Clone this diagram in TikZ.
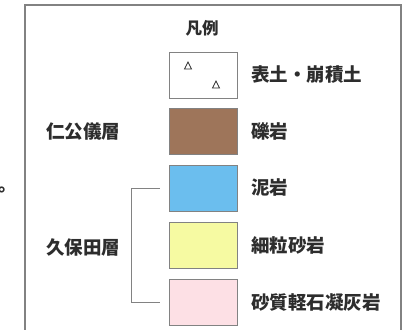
\documentclass[tikz,border=0pt]{standalone}
\usepackage{fontspec}
\newfontfamily\cjk{Noto Sans CJK JP}
\usepackage{xcolor}
\usetikzlibrary{positioning}

\definecolor{framegray}{RGB}{130,130,130}
\definecolor{textgray}{RGB}{45,45,45}
\definecolor{gravelbrown}{RGB}{158,117,90}
\definecolor{mudblue}{RGB}{107,190,238}
\definecolor{sandyellow}{RGB}{246,250,162}
\definecolor{tuffpink}{RGB}{253,224,229}

\begin{document}
\begin{tikzpicture}[
  x=1pt, y=-1pt,
  swatch/.style={rectangle, draw=framegray, line width=0.9pt, minimum width=68pt, minimum height=46pt, inner sep=0pt},
  lbl/.style={font=\cjk\bfseries\fontsize{18.5}{19}\selectfont, text=textgray, anchor=west, inner sep=0pt},
  grp/.style={font=\cjk\bfseries\fontsize{18.5}{19}\selectfont, text=textgray, inner sep=0pt},
  tri/.style={draw=textgray, line width=0.8pt},
  bracket/.style={draw=framegray, line width=0.9pt},
]
  \useasboundingbox (0,0) rectangle (403,329);
  \fill[white] (0,0) rectangle (403,329);

  % frame of the legend
  \draw[framegray, line width=1.6pt] (25,330) -- (25,5) -- (401,5) -- (401,330);

  \node[grp, font=\cjk\bfseries\fontsize{16.5}{17}\selectfont] (title) at (202,28) {凡例};

  \node[swatch, fill=white] (soil) at (203,75) {};
  \node[swatch, fill=gravelbrown] (gravel) at (203,131) {};
  \node[swatch, fill=mudblue] (mud) at (203,188) {};
  \node[swatch, fill=sandyellow] (sand) at (203,245) {};
  \node[swatch, fill=tuffpink] (tuff) at (203,302) {};

  % small triangles in the top swatch
  \draw[tri] (184.5,69) -- (191.5,69) -- (188,62) -- cycle;
  \draw[tri] (212.5,88) -- (219.5,88) -- (216,81) -- cycle;

  \node[lbl] (soil-l) at (251,75) {表土・崩積土};
  \node[lbl] (gravel-l) at (251,131) {礫岩};
  \node[lbl] (mud-l) at (251,188) {泥岩};
  \node[lbl] (sand-l) at (251,245) {細粒砂岩};
  \node[lbl] (tuff-l) at (251,302) {砂質軽石凝灰岩};

  \node[grp] (nikogi) at (83,131) {仁公儀層};
  \node[grp] (kubota) at (83,247) {久保田層};

  \coordinate (bk) at (131,0);
  \draw[bracket] ([xshift=-9pt]mud.west) -- (bk |- mud.west) -- (bk |- tuff.west) -- ([xshift=-9pt]tuff.west);

  \node[grp, anchor=west] (stop) at (-1.5,190) {。};
\end{tikzpicture}
\end{document}
